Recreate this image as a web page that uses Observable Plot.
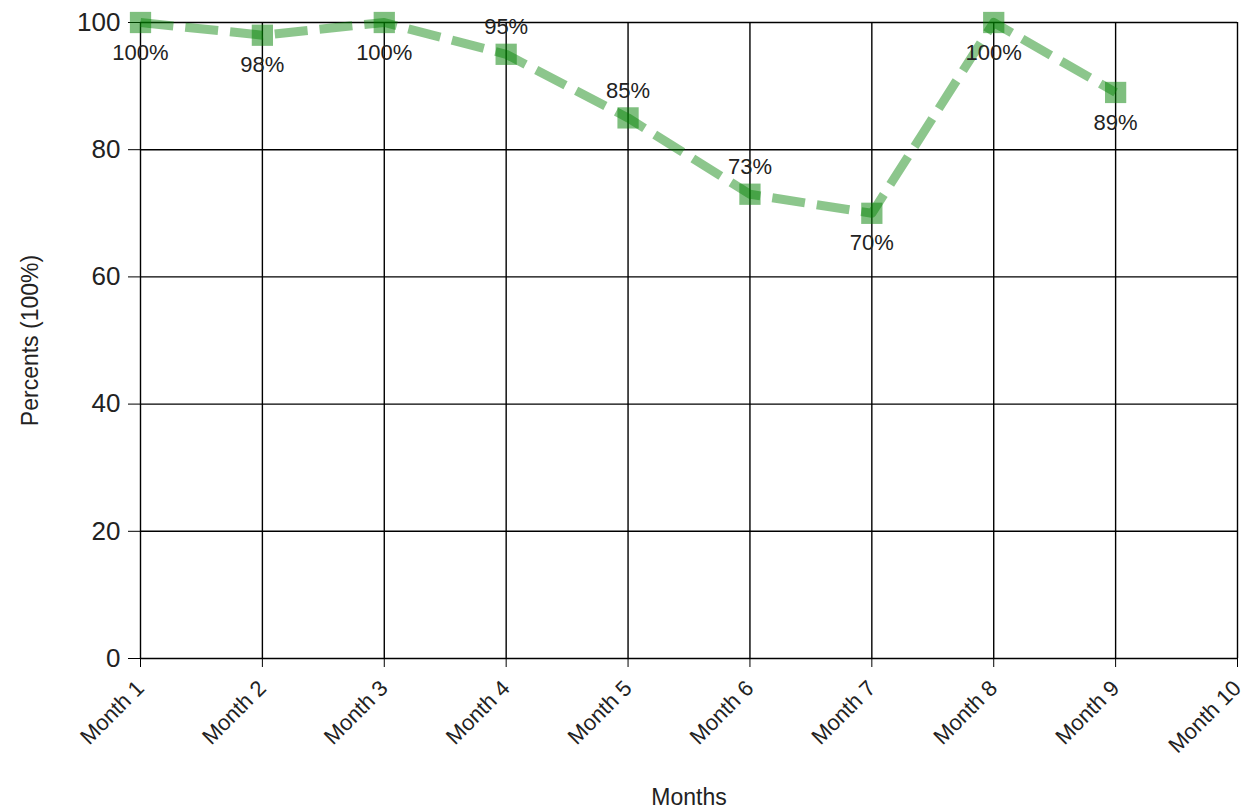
<!DOCTYPE html>
<html>
<head>
<meta charset="utf-8">
<script src="https://cdn.jsdelivr.net/npm/d3@7"></script>
<script src="https://cdn.jsdelivr.net/npm/@observablehq/plot@0.6"></script>
<style>
  html, body { margin: 0; padding: 0; background: #fff; }
  #chart svg { display: block; font-family: "Liberation Sans", Arial, sans-serif; }
</style>
</head>
<body>
<div id="chart"></div>
<script>
// Monthly completion rate, in percent
const months = ["Month 1", "Month 2", "Month 3", "Month 4", "Month 5", "Month 6", "Month 7", "Month 8", "Month 9", "Month 10"];
const percents = [100, 98, 100, 95, 85, 73, 70, 100, 89];
const yTicks = [0, 20, 40, 60, 80, 100];
const xTitle = "Months";
const yTitle = "Percents (100%)";

const rows = percents.map((v, i) => ({month: months[i], value: v}));

// labels drawn above the point instead of below it
const labelAbove = new Set(["Month 4", "Month 5", "Month 6"]);

const lineColor = "green";

const chart = Plot.plot({
  width: 1245,
  height: 810,
  marginTop: 22,
  marginRight: 8,
  marginBottom: 152,
  marginLeft: 140,
  style: {background: "#fff", color: "#222", fontFamily: "Liberation Sans, Arial, sans-serif"},
  x: {type: "point", domain: months, padding: 0, round: false},
  y: {domain: [0, 100]},
  marks: [
    Plot.gridY(yTicks, {stroke: "#000", strokeOpacity: 1, strokeWidth: 1.4}),
    Plot.gridX(months, {stroke: "#000", strokeOpacity: 1, strokeWidth: 1.4}),
    Plot.axisY(yTicks, {
      tickSize: 12, tickPadding: 8, fontSize: 26, stroke: "#000", label: null
    }),
    Plot.axisX(months, {
      tickSize: 9, tickPadding: 17, tickRotate: -45, fontSize: 22, stroke: "#000", label: null
    }),
    // axis titles
    Plot.text([yTitle], {
      frameAnchor: "left", dx: -110, rotate: -90, textAnchor: "middle", lineAnchor: "middle",
      fontSize: 23, fill: "#222"
    }),
    Plot.text([xTitle], {
      frameAnchor: "bottom", dy: 139, lineAnchor: "middle", fontSize: 23, fill: "#222"
    }),
    Plot.lineY(rows, {
      x: "month", y: "value", stroke: lineColor, strokeOpacity: 0.45,
      strokeWidth: 9, strokeDasharray: "33,12", strokeLinecap: "butt"
    }),
    Plot.dot(rows, {
      x: "month", y: "value", symbol: "square", r: 12,
      fill: lineColor, fillOpacity: 0.5, stroke: "none"
    }),
    Plot.text(rows.filter(d => !labelAbove.has(d.month)), {
      x: "month", y: "value", text: d => `${d.value}%`, dy: 30,
      fontSize: 22, fill: "#222"
    }),
    Plot.text(rows.filter(d => labelAbove.has(d.month)), {
      x: "month", y: "value", text: d => `${d.value}%`, dy: -27,
      fontSize: 22, fill: "#222"
    })
  ]
});

document.getElementById("chart").append(chart);
</script>
</body>
</html>
